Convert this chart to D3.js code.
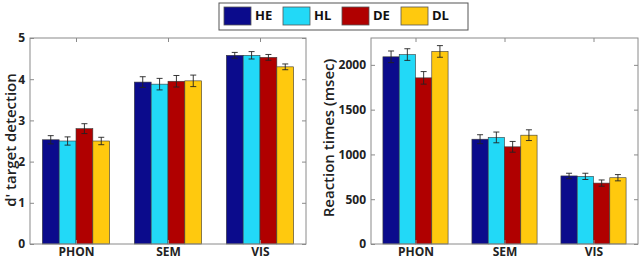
<!DOCTYPE html>
<html><head><meta charset="utf-8">
<script src="https://cdn.jsdelivr.net/npm/d3@7"></script>
<style>body{margin:0;background:#fff}svg{display:block}text{font-family:"Open Sans",sans-serif}</style>
</head><body><svg id="c" width="640" height="260"></svg>
<script>
const categories = ["PHON","SEM","VIS"];
const seriesNames = ["HE","HL","DE","DL"];
const seriesColors = ["#0b0b8c","#22d9f7","#b00000","#ffc90e"];
// d' target detection
const dHE = [2.53, 3.93, 4.58];
const dHL = [2.50, 3.88, 4.58];
const dDE = [2.80, 3.95, 4.53];
const dDL = [2.50, 3.96, 4.30];
const dErrHE = [0.10, 0.13, 0.07];
const dErrHL = [0.10, 0.14, 0.09];
const dErrDE = [0.12, 0.14, 0.07];
const dErrDL = [0.09, 0.14, 0.07];
const dTicks = [0,1,2,3,4,5];
// reaction times (msec)
const rtHE = [2090, 1170, 760];
const rtHL = [2115, 1190, 755];
const rtDE = [1855, 1085, 680];
const rtDL = [2150, 1215, 740];
const rtErrHE = [65, 50, 30];
const rtErrHL = [65, 60, 35];
const rtErrDE = [70, 60, 35];
const rtErrDL = [65, 60, 35];
const rtTicks = [0,500,1000,1500,2000];

const svg = d3.select("#c");

function panel(cfg){
  const g = svg.append("g");
  const x = d3.scaleLinear().domain([0.5,3.5]).range([cfg.x0,cfg.x1]);
  const y = d3.scaleLinear().domain([0,cfg.ymax]).range([cfg.y1,cfg.y0]);
  const bw = (x(2)-x(1))*0.183;
  cfg.vals.forEach((vals,si)=>{
    vals.forEach((v,ci)=>{
      const cx = x(ci+1) + (si-1.5)*bw;
      g.append("rect").attr("x",cx-bw/2).attr("y",y(v)).attr("width",bw).attr("height",y(0)-y(v))
        .attr("fill",seriesColors[si]).attr("stroke","#3a3a3a").attr("stroke-width",0.6);
      const e = cfg.errs[si][ci];
      g.append("line").attr("x1",cx).attr("x2",cx).attr("y1",y(v-e)).attr("y2",y(v+e)).attr("stroke","#222").attr("stroke-width",0.9);
      [v-e,v+e].forEach(t=>g.append("line").attr("x1",cx-3).attr("x2",cx+3).attr("y1",y(t)).attr("y2",y(t)).attr("stroke","#222").attr("stroke-width",0.9));
    });
  });
  g.append("rect").attr("x",cfg.x0).attr("y",cfg.y0).attr("width",cfg.x1-cfg.x0).attr("height",cfg.y1-cfg.y0)
    .attr("fill","none").attr("stroke","#8a8a8a").attr("stroke-width",1);
  const ya = d3.axisLeft(y).tickValues(cfg.ticks).tickSize(-4).tickPadding(5).tickFormat(d3.format("d"));
  const yg = g.append("g").attr("transform",`translate(${cfg.x0},0)`).call(ya);
  yg.select(".domain").remove();
  yg.selectAll(".tick line").attr("stroke","#8a8a8a");
  yg.selectAll("text").attr("font-size",12).attr("font-weight","bold").attr("fill","#222");
  const yr = d3.axisRight(y).tickValues(cfg.ticks).tickSize(-4).tickFormat("");
  const yrg = g.append("g").attr("transform",`translate(${cfg.x1},0)`).call(yr);
  yrg.select(".domain").remove(); yrg.selectAll(".tick line").attr("stroke","#8a8a8a");
  const xa = d3.axisBottom(x).tickValues([1,2,3]).tickSize(-4).tickPadding(3).tickFormat(d=>categories[d-1]);
  const xg = g.append("g").attr("transform",`translate(0,${cfg.y1})`).call(xa);
  xg.select(".domain").remove(); xg.selectAll(".tick line").attr("stroke","#8a8a8a");
  xg.selectAll("text").attr("font-size",12).attr("font-weight","bold").attr("fill","#222");
  const xt = d3.axisTop(x).tickValues([1,2,3]).tickSize(-4).tickFormat("");
  const xtg = g.append("g").attr("transform",`translate(0,${cfg.y0})`).call(xt);
  xtg.select(".domain").remove(); xtg.selectAll(".tick line").attr("stroke","#8a8a8a");
  g.append("text").attr("transform",`translate(${cfg.lx},${cfg.ly}) rotate(-90)`)
    .attr("text-anchor","middle").attr("dominant-baseline","middle").attr("font-size",15).attr("font-weight",600).attr("fill","#222").text(cfg.label);
}

panel({x0:30,x1:306,y0:38,y1:244,ymax:5,ticks:dTicks,vals:[dHE,dHL,dDE,dDL],errs:[dErrHE,dErrHL,dErrDE,dErrDL],label:"d' target detection",lx:12,ly:140});
panel({x0:371,x1:638,y0:38,y1:244,ymax:2300,ticks:rtTicks,vals:[rtHE,rtHL,rtDE,rtDL],errs:[rtErrHE,rtErrHL,rtErrDE,rtErrDL],label:"Reaction times (msec)",lx:330,ly:138});

const lg = svg.append("g");
lg.append("rect").attr("x",219).attr("y",3).attr("width",249).attr("height",27).attr("fill","#fff").attr("stroke","#555").attr("stroke-width",1);
const lx = d3.scaleLinear().domain([0,3]).range([224,401]);
seriesNames.forEach((n,i)=>{
  lg.append("rect").attr("x",lx(i)).attr("y",7).attr("width",27).attr("height",18).attr("fill",seriesColors[i]).attr("stroke","#555").attr("stroke-width",0.8);
  lg.append("text").attr("x",lx(i)+31).attr("y",17).attr("dominant-baseline","middle").attr("font-size",13).attr("font-weight","bold").attr("fill","#111").text(n);
});
</script></body></html>
